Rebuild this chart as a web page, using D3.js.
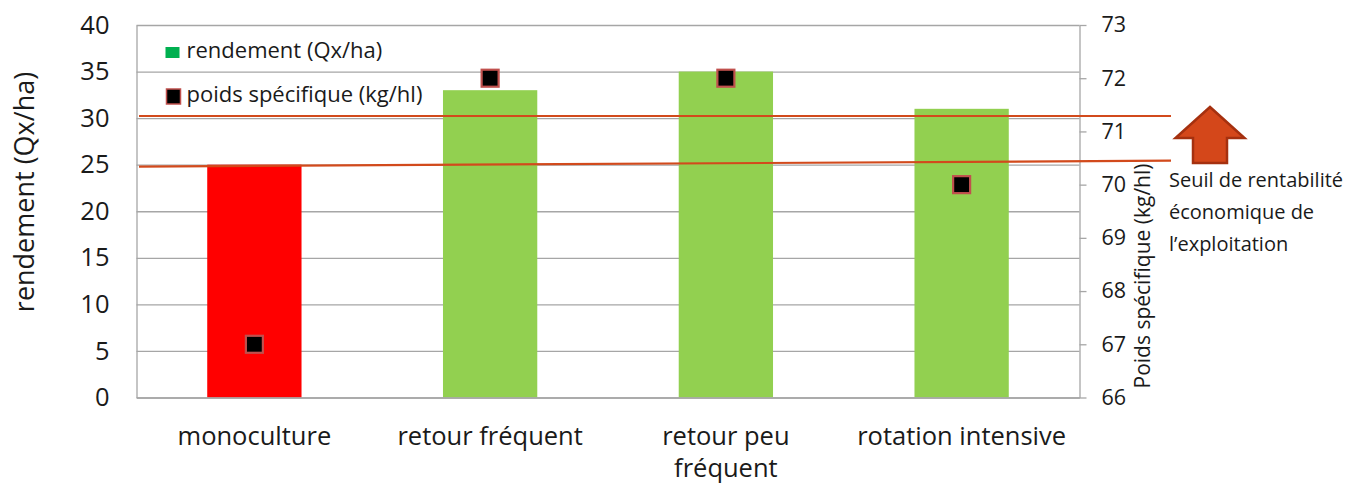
<!DOCTYPE html>
<html>
<head>
<meta charset="utf-8">
<script src="https://cdn.jsdelivr.net/npm/d3@7"></script>
<style>
  html, body { margin: 0; padding: 0; background: #fff; }
  svg { display: block; font-family: "Open Sans", sans-serif; }
</style>
</head>
<body>
<svg id="chart" width="1364" height="485"></svg>
<script>
// Rendement (bars, left axis) and poids spécifique (markers, right axis) per system
const categories = ["monoculture", "retour fréquent", "retour peu fréquent", "rotation intensive"];
const categoryLabels = [["monoculture"], ["retour fréquent"], ["retour peu", "fréquent"], ["rotation intensive"]];
const rendement = [25, 33, 35, 31];
const barColors = ["#ff0000", "#92d050", "#92d050", "#92d050"];
const poidsSpecifique = [67, 72, 72, 70];
const leftTicks = [0, 5, 10, 15, 20, 25, 30, 35, 40];
const rightTicks = [66, 67, 68, 69, 70, 71, 72, 73];
// Profitability threshold band, in kg/hl (right axis): [start, end] of each line
const seuilHaut = [71.29, 71.29];
const seuilBas = [70.34, 70.45];
const seuilLabel = ["Seuil de rentabilité", "économique de", "l’exploitation"];
const legendItems = ["rendement (Qx/ha)", "poids spécifique (kg/hl)"];

const svg = d3.select("#chart");
const margin = { left: 136.5, top: 25, right: 284.5, bottom: 87.5 };
const W = 1364 - margin.left - margin.right;
const H = 485 - margin.top - margin.bottom;
const g = svg.append("g").attr("transform", `translate(${margin.left},${margin.top})`);

const x = d3.scaleBand().domain(categories).range([0, W]).paddingInner(0.6).paddingOuter(0.3);
const yL = d3.scaleLinear().domain([0, 40]).range([H, 0]);
const yR = d3.scaleLinear().domain([66, 73]).range([H, 0]);

const gridColor = "#a6a6a6";
const textColor = "#1a1a1a";

// horizontal gridlines
g.append("g").attr("class", "grid")
  .call(d3.axisLeft(yL).tickValues(leftTicks).tickSize(-W).tickFormat(""))
  .call(s => s.select(".domain").remove())
  .call(s => s.selectAll("line").attr("stroke", gridColor).attr("stroke-width", 1.3));

// bars
g.selectAll("rect.bar").data(categories).join("rect")
  .attr("class", "bar")
  .attr("x", d => x(d))
  .attr("width", x.bandwidth())
  .attr("y", (d, i) => yL(rendement[i]))
  .attr("height", (d, i) => H - yL(rendement[i]))
  .attr("fill", (d, i) => barColors[i]);

// left axis
const axL = g.append("g")
  .call(d3.axisLeft(yL).tickValues(leftTicks).tickSize(0).tickPadding(27));
axL.select(".domain").attr("stroke", gridColor).attr("stroke-width", 1.3);
axL.selectAll("text").attr("font-size", 25.5).attr("fill", textColor).attr("font-family", "Open Sans");

// bottom axis line
const axB = g.append("g").attr("transform", `translate(0,${H})`)
  .call(d3.axisBottom(x).tickSize(0).tickFormat(""));
axB.select(".domain").attr("stroke", gridColor).attr("stroke-width", 1.3);

// category labels
categoryLabels.forEach((lines, i) => {
  const cx = x(categories[i]) + x.bandwidth() / 2;
  const t = g.append("text")
    .attr("x", cx)
    .attr("y", H + 47.5)
    .attr("text-anchor", "middle")
    .attr("font-size", 25.5)
    .attr("fill", textColor);
  lines.forEach((ln, j) => t.append("tspan")
    .attr("x", cx)
    .attr("dy", j === 0 ? 0 : 32)
    .text(ln));
});

// right axis
const axR = g.append("g").attr("transform", `translate(${W},0)`)
  .call(d3.axisRight(yR).tickValues(rightTicks).tickFormat(d3.format("d"))
    .tickSize(7).tickSizeOuter(0).tickPadding(15));
axR.select(".domain").attr("stroke", gridColor).attr("stroke-width", 1.3);
axR.selectAll(".tick line").attr("stroke", gridColor).attr("stroke-width", 1.3);
axR.selectAll("text").attr("font-size", 21.5).attr("fill", textColor).attr("font-family", "Open Sans");

// axis titles
svg.append("text")
  .attr("transform", `translate(34,192) rotate(-90)`)
  .attr("text-anchor", "middle")
  .attr("font-size", 27)
  .attr("fill", textColor)
  .text("rendement (Qx/ha)");

svg.append("text")
  .attr("transform", `translate(1150,276) rotate(-90)`)
  .attr("text-anchor", "middle")
  .attr("font-size", 21)
  .attr("fill", textColor)
  .text("Poids spécifique (kg/hl)");

// threshold lines (drawn over bars, extend past the right axis)
const lineX0 = 2.5, lineX1 = W + 91.5;
[seuilHaut, seuilBas].forEach(v => {
  g.append("line")
    .attr("x1", lineX0).attr("x2", lineX1)
    .attr("y1", yR(v[0])).attr("y2", yR(v[1]))
    .attr("stroke", "#d24a1c").attr("stroke-width", 2.2);
});

// poids spécifique markers
const ms = 17;
g.selectAll("rect.marker").data(categories).join("rect")
  .attr("class", "marker")
  .attr("x", d => x(d) + x.bandwidth() / 2 - ms / 2)
  .attr("y", (d, i) => yR(poidsSpecifique[i]) - ms / 2)
  .attr("width", ms).attr("height", ms)
  .attr("fill", "#000")
  .attr("stroke", "#c0504d").attr("stroke-width", 2.2);

// legend
const leg = g.append("g").attr("transform", "translate(29,0)");
leg.append("rect").attr("x", 0).attr("y", 22).attr("width", 14).attr("height", 11).attr("fill", "#00b050");
leg.append("text").attr("x", 21).attr("y", 32.5).attr("font-size", 22).attr("fill", textColor).text(legendItems[0]);
leg.append("rect").attr("x", 1).attr("y", 64).attr("width", 14).attr("height", 15)
  .attr("fill", "#000").attr("stroke", "#c0504d").attr("stroke-width", 1.5);
leg.append("text").attr("x", 21).attr("y", 76.5).attr("font-size", 22).attr("fill", textColor).text(legendItems[1]);

// up arrow and threshold caption
const ax = 1210, tipY = 107, headY = 138, baseY = 163, headHalf = 34.5, shaftHalf = 17;
svg.append("path")
  .attr("d", `M${ax},${tipY} L${ax + headHalf},${headY} L${ax + shaftHalf},${headY} L${ax + shaftHalf},${baseY}
              L${ax - shaftHalf},${baseY} L${ax - shaftHalf},${headY} L${ax - headHalf},${headY} Z`)
  .attr("fill", "#d4471a").attr("stroke", "#a5300f").attr("stroke-width", 2.5)
  .attr("stroke-linejoin", "miter");

const cap = svg.append("text").attr("x", 1169).attr("y", 187).attr("font-size", 20).attr("fill", textColor);
seuilLabel.forEach((ln, j) => cap.append("tspan").attr("x", 1169).attr("dy", j === 0 ? 0 : 32).text(ln));
</script>
</body>
</html>
